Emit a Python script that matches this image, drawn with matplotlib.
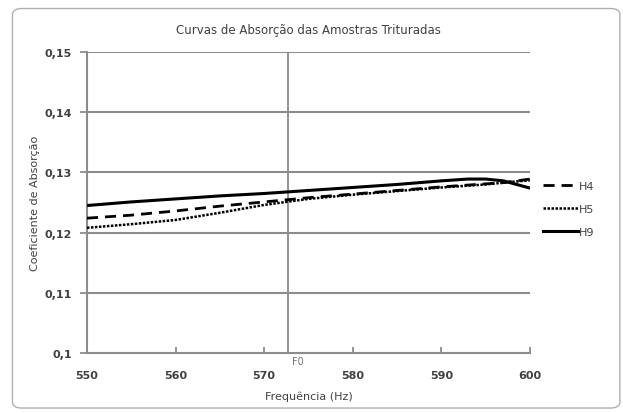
import matplotlib
matplotlib.use('agg')
import matplotlib.pyplot as plt
from matplotlib.patches import FancyBboxPatch
from matplotlib.lines import Line2D

freq = [550, 555, 560, 565, 570, 575, 580, 585, 590, 593, 595, 597, 600]
h4 = [0.1224, 0.1229, 0.1236, 0.1244, 0.1251, 0.1258, 0.1264, 0.1270, 0.1276, 0.1279, 0.1281, 0.1283, 0.1289]
h5 = [0.1208, 0.1214, 0.1221, 0.1233, 0.1246, 0.1256, 0.1263, 0.1269, 0.1275, 0.1278, 0.1280, 0.1283, 0.1287]
h9 = [0.1245, 0.1251, 0.1256, 0.1261, 0.1265, 0.1270, 0.1275, 0.1280, 0.1286, 0.1289, 0.1289, 0.1286, 0.1274]
f0 = 572.7
yticks = [0.10, 0.11, 0.12, 0.13, 0.14, 0.15]
ytick_labels = ['0,1', '0,11', '0,12', '0,13', '0,14', '0,15']
xticks = [550, 560, 570, 580, 590, 600]

grey = '#8c8c8c'
txt = '#404040'

fig = plt.figure(figsize=(6.23, 4.14), dpi=100)
border = FancyBboxPatch((0.02, 0.012), 0.975, 0.965, boxstyle='round,pad=0,rounding_size=0.015',
                        transform=fig.transFigure, facecolor='none', edgecolor='#b0b0b0', lw=1)
fig.patches.append(border)

ax = fig.add_axes([0.1396, 0.1449, 0.711, 0.727])
ax.set_facecolor('none')

for y in yticks[1:]:
    ax.axhline(y, color=grey, lw=1.5, zorder=1)
ax.axvline(f0, color=grey, lw=1.3, zorder=1)

ax.plot(freq, h4, color='black', lw=2, ls=(0, (4, 2.5)), label='H4', zorder=3)
ax.plot(freq, h5, color='black', lw=1.8, ls=(0, (1, 0.6)), label='H5', zorder=3)
ax.plot(freq, h9, color='black', lw=2.2, ls='-', label='H9', zorder=3)

ax.set_xlim(550, 600)
ax.set_ylim(0.10, 0.15)
ax.set_xticks(xticks)
ax.set_yticks(yticks)
ax.set_yticklabels(ytick_labels)
for s in ['top', 'right']:
    ax.spines[s].set_visible(False)
for s in ['left', 'bottom']:
    ax.spines[s].set_color(grey)
    ax.spines[s].set_linewidth(1.5)
ax.tick_params(axis='y', direction='out', length=5, color=grey, width=1.3, labelsize=8, labelcolor=txt, pad=6)
ax.tick_params(axis='x', direction='in', length=4, color=grey, width=1.3, labelsize=8, labelcolor=txt, pad=12)
for lab in ax.get_xticklabels() + ax.get_yticklabels():
    lab.set_fontweight('bold')

ax.text(f0 + 0.4, 0.0995, 'F0', fontsize=7, color='#707070', va='top', ha='left')

ax.set_title('Curvas de Absorção das Amostras Trituradas', fontsize=8.5, color=txt, pad=14)
ax.set_xlabel('Frequência (Hz)', fontsize=8, color=txt, labelpad=8)
ax.set_ylabel('Coeficiente de Absorção', fontsize=8, color=txt, labelpad=3)

handles = [Line2D([], [], color='black', lw=2, ls=(0, (4, 2.5))),
           Line2D([], [], color='black', lw=1.8, ls=(0, (1, 0.6))),
           Line2D([], [], color='black', lw=2.2)]
fig.legend(handles, ['H4', 'H5', 'H9'], loc='center left', bbox_to_anchor=(0.855, 0.493),
           frameon=False, fontsize=8, handlelength=3.2, handletextpad=0.1, labelspacing=1.15,
           labelcolor=txt)

fig.savefig('out.png', dpi=100)
